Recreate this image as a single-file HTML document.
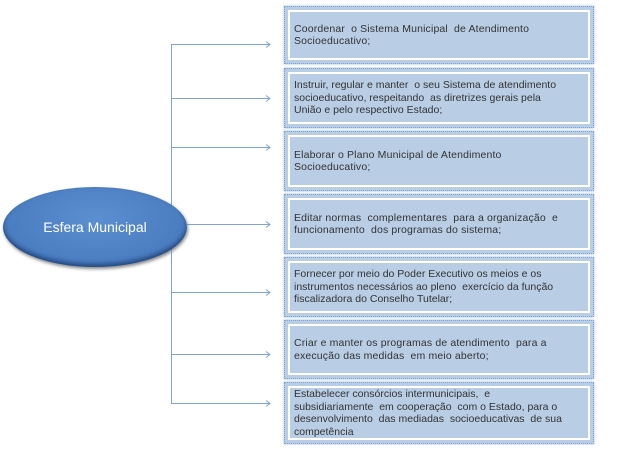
<!DOCTYPE html>
<html><head><meta charset="utf-8"><style>
body{margin:0;width:623px;height:454px;background:#fff;position:relative;overflow:hidden;font-family:"Liberation Sans",sans-serif}
.b{position:absolute;left:284px;width:308px;border:1px dotted #7ea3d4;box-shadow:0 0 2px #8fb0dc;background:#b9cde5}
.b div{position:absolute;left:3px;right:3px;top:3px;bottom:3px;border:2px solid #fff;background:#b9cde5;display:flex;align-items:center;padding:0 0 0 4px;box-sizing:border-box;font-size:10.5px;line-height:12.5px;color:#333;white-space:nowrap;letter-spacing:0.15px}
.e{position:absolute;left:3px;top:187px;width:184px;height:80px;border-radius:50%;background:radial-gradient(ellipse at 50% 40%,#5b8fd0,#4a7cc0 70%,#2f5a96);box-shadow:inset 0 -3px 5px #23497e,1px 2px 3px #888;color:#fff;font-size:14px;display:flex;align-items:center;justify-content:center}
</style></head><body>
<svg width="623" height="454" style="position:absolute;left:0;top:0">
<g stroke="#7ea3d4" stroke-width="1" fill="none">
<line x1="171.5" y1="44" x2="171.5" y2="404"/>
<line x1="171" y1="44.5" x2="270" y2="44.5"/><path d="M266 41.5l4 3-4 3"/>
<line x1="171" y1="98.5" x2="270" y2="98.5"/><path d="M266 95.5l4 3-4 3"/>
<line x1="171" y1="147.5" x2="270" y2="147.5"/><path d="M266 144.5l4 3-4 3"/>
<line x1="171" y1="224.5" x2="270" y2="224.5"/><path d="M266 221.5l4 3-4 3"/>
<line x1="171" y1="292.5" x2="270" y2="292.5"/><path d="M266 289.5l4 3-4 3"/>
<line x1="171" y1="354.5" x2="270" y2="354.5"/><path d="M266 351.5l4 3-4 3"/>
<line x1="171" y1="403.5" x2="270" y2="403.5"/><path d="M266 400.5l4 3-4 3"/>
</g></svg>
<div class="e">Esfera Municipal</div>
<div class="b" style="top:6px;height:56px"><div>Coordenar &nbsp;o Sistema Municipal &nbsp;de Atendimento<br>Socioeducativo;</div></div>
<div class="b" style="top:68px;height:58px"><div style="letter-spacing:0">Instruir, regular e manter &nbsp;o seu Sistema de atendimento<br>socioeducativo, respeitando &nbsp;as diretrizes gerais pela<br>União e pelo respectivo Estado;</div></div>
<div class="b" style="top:131px;height:58px"><div>Elaborar o Plano Municipal de Atendimento<br>Socioeducativo;</div></div>
<div class="b" style="top:194px;height:58px"><div>Editar normas &nbsp;complementares &nbsp;para a organização &nbsp;e<br>funcionamento &nbsp;dos programas do sistema;</div></div>
<div class="b" style="top:257px;height:58px"><div style="letter-spacing:0">Fornecer por meio do Poder Executivo os meios e os<br>instrumentos necessários ao pleno &nbsp;exercício da função<br>fiscalizadora do Conselho Tutelar;</div></div>
<div class="b" style="top:320px;height:57px"><div>Criar e manter os programas de atendimento &nbsp;para a<br>execução das medidas &nbsp;em meio aberto;</div></div>
<div class="b" style="top:382px;height:60px"><div style="letter-spacing:0">Estabelecer consórcios intermunicipais, &nbsp;e<br>subsidiariamente &nbsp;em cooperação &nbsp;com o Estado, para o<br>desenvolvimento &nbsp;das mediadas &nbsp;socioeducativas &nbsp;de sua<br>competência</div></div>
</body></html>
